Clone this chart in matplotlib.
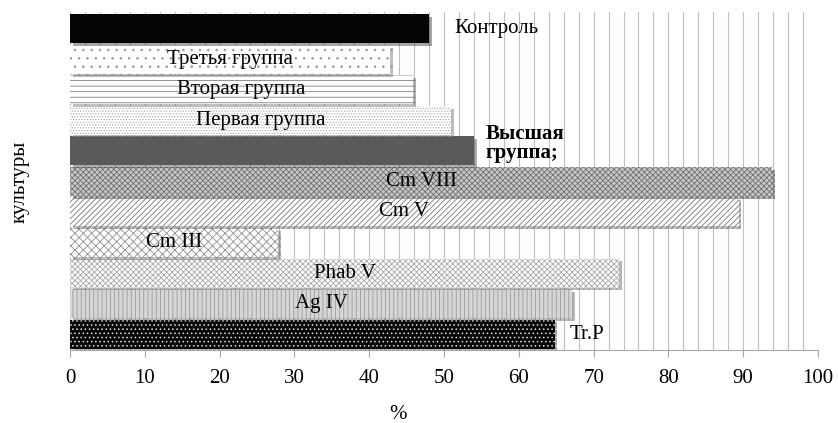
import matplotlib.pyplot as plt
import matplotlib.patheffects as pe
from matplotlib.ticker import MultipleLocator

# categories from bottom to top
cultures = ["Tr.P", "Ag IV", "Phab V", "Cm III", "Cm V", "Cm VIII",
            "Высшая\nгруппа;", "Первая группа", "Вторая группа",
            "Третья группа", "Контроль"]
values = [64.8, 67.1, 73.4, 27.8, 89.4, 93.9, 54.0, 50.9, 45.9, 42.8, 48.0]
x_ticks = [0, 10, 20, 30, 40, 50, 60, 70, 80, 90, 100]

# styling per bar (same order)
faces = ["#080808", "#d6d6d6", "#ffffff", "#ffffff", "#ffffff", "#c8c8c8",
         "#5a5a5a", "#ffffff", "#ffffff", "#ffffff", "#050505"]
hatch_cols = ["#e0e0e0", "#9a9a9a", "#a8a8a8", "#909090", "#777777", "#707070",
              "#5a5a5a", "#b0b0b0", "#808080", "#9a9a9a", "#050505"]
hatches = ["....", "||||", "xxxxxx", "xxxx", "//////", "xxxxxx",
           "", "......", "---", "..", ""]
# labels placed right of the bar end (gap in data units)
outside = {"Tr.P": 2.0, "Высшая\nгруппа;": 1.6, "Контроль": 3.4}

plt.rcParams['font.family'] = ['Liberation Serif', 'DejaVu Serif']
plt.rcParams['hatch.linewidth'] = 0.6

fig = plt.figure(figsize=(8.38, 4.23), dpi=100)
ax = fig.add_axes([70 / 838, 1 - 350 / 423, 748 / 838, 338 / 423])

pos = list(range(len(cultures)))
bars = ax.barh(pos, values, height=0.95, zorder=3, linewidth=0)
shadow = [pe.SimplePatchShadow(offset=(2, -2), alpha=0.35), pe.Normal()]
for b, fc, hc, h in zip(bars, faces, hatch_cols, hatches):
    b.set_facecolor(fc)
    b.set_edgecolor(hc)
    b.set_hatch(h)
    b.set_path_effects(shadow)

fs = 15
for p, v, name in zip(pos, values, cultures):
    if name in outside:
        bold = name.startswith("Высшая")
        ax.text(v + outside[name], p + (0.25 if bold else 0), name,
                ha='left', va='center', fontsize=fs,
                fontweight='bold' if bold else 'normal',
                linespacing=0.95, zorder=5)
    else:
        ax.text(v / 2, p, name, ha='center', va='center', fontsize=fs,
                zorder=5)

ax.set_xlim(0, 100)
ax.set_ylim(-0.52, 10.55)
ax.set_xticks(x_ticks)
ax.xaxis.set_minor_locator(MultipleLocator(2))
ax.grid(True, axis='x', which='both', color='#c0c0c0', linewidth=0.8, zorder=0)
ax.set_yticks([])
for s in ['left', 'top', 'right']:
    ax.spines[s].set_visible(False)
ax.spines['bottom'].set_color('#a6a6a6')
ax.tick_params(axis='x', which='major', length=5, color='#a6a6a6',
               labelsize=fs, pad=9)
ax.tick_params(axis='x', which='minor', length=0)

fig.text(20 / 838, 1 - 182 / 423, "культуры", rotation=90, ha='center',
         va='center', fontsize=fs)
fig.text(398 / 838, 1 - 414 / 423, "%", ha='center', va='center', fontsize=fs)

fig.savefig('out.png', dpi=100)
